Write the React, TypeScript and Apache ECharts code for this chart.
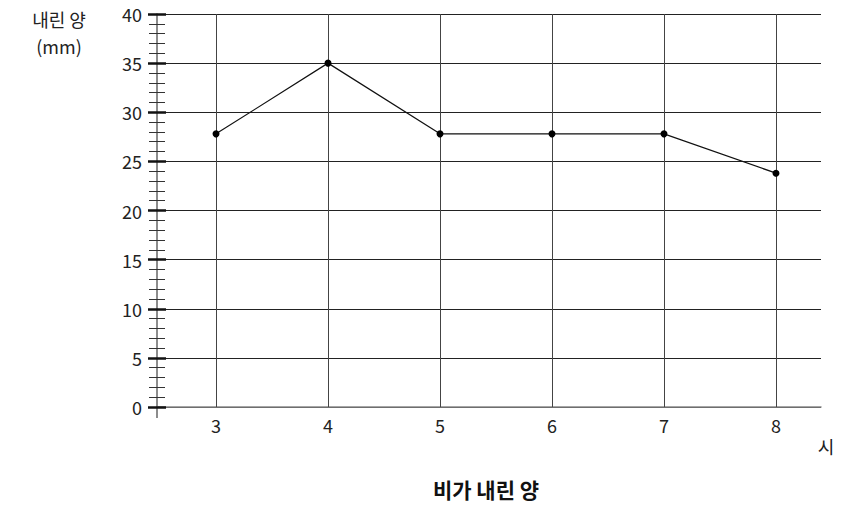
import React, { useEffect, useRef } from "react";
import * as echarts from "echarts";

const hours = [3, 4, 5, 6, 7, 8];
const rainfall = [27.8, 35, 27.8, 27.8, 27.8, 23.8];
const yTicks = [0, 5, 10, 15, 20, 25, 30, 35, 40];
const titleText = "비가 내린 양";
const yNameLines = ["내린 양", "(mm)"];
const xName = "시";

const FONT = "'Noto Sans CJK KR', 'Noto Sans', sans-serif";

export default function App() {
  const ref = useRef<HTMLDivElement>(null);
  useEffect(() => {
    if (!ref.current) return;
    const chart = echarts.init(ref.current, undefined, { renderer: "svg" });
    const yBase = {
      type: "value",
      min: yTicks[0],
      max: yTicks[yTicks.length - 1],
      interval: 5,
      position: "left",
    };
    chart.setOption({
      animation: false,
      backgroundColor: "#fff",
      textStyle: { fontFamily: FONT },
      title: {
        text: titleText,
        left: 481,
        textAlign: "center",
        top: 473,
        textStyle: { fontFamily: FONT, fontSize: 21, fontWeight: "bold", color: "#111" },
      },
      grid: { left: 157, right: 40, top: 14, bottom: 100 },
      xAxis: {
        type: "value",
        min: 2.473,
        max: 8.402,
        axisLine: { show: true, onZero: false, lineStyle: { color: "#888", width: 1.5 } },
        axisTick: { show: false },
        splitLine: { show: false },
        axisLabel: {
          customValues: hours,
          margin: 9,
          fontSize: 18,
          color: "#222",
          fontFamily: FONT,
        },
      },
      yAxis: [
        {
          ...yBase,
          axisLine: { show: true, lineStyle: { color: "#666", width: 1.5 } },
          axisTick: { show: true, inside: false, length: 9, lineStyle: { color: "#111", width: 2.5 } },
          minorTick: { show: true, splitNumber: 5, length: 8, lineStyle: { color: "#333", width: 1 } },
          splitLine: { show: true, lineStyle: { color: "#222", width: 1 } },
          axisLabel: { margin: 15, fontSize: 18, color: "#222", fontFamily: FONT },
        },
        {
          ...yBase,
          axisLine: { show: false },
          axisTick: { show: true, inside: true, length: 9, lineStyle: { color: "#111", width: 2.5 } },
          minorTick: { show: true, splitNumber: 5, length: 8, lineStyle: { color: "#333", width: 1 } },
          splitLine: { show: false },
          axisLabel: { show: false },
        },
      ],
      graphic: [
        {
          type: "text",
          x: 59,
          y: 5,
          style: {
            text: yNameLines.join("\n"),
            fontSize: 18,
            lineHeight: 27,
            fontFamily: FONT,
            fill: "#222",
            align: "center",
            verticalAlign: "top",
          },
        },
        {
          type: "text",
          x: 826,
          y: 437,
          style: {
            text: xName,
            fontSize: 18,
            fontFamily: FONT,
            fill: "#222",
            align: "center",
            verticalAlign: "top",
          },
        },
        {
          type: "line",
          shape: { x1: 157, y1: 406, x2: 157, y2: 418 },
          style: { stroke: "#666", lineWidth: 1.5 },
        },
      ],
      series: [
        {
          type: "line",
          data: hours.map((h, i) => [h, rainfall[i]]),
          symbol: "circle",
          symbolSize: 7,
          itemStyle: { color: "#000" },
          lineStyle: { color: "#111", width: 1.2 },
          z: 5,
          markLine: {
            silent: true,
            symbol: "none",
            label: { show: false },
            lineStyle: { color: "#444", width: 1, type: "solid" },
            data: hours.map((h) => ({ xAxis: h })),
          },
        },
      ],
    });
    return () => chart.dispose();
  }, []);
  return (
    <div
      ref={ref}
      style={{ position: "fixed", left: 0, top: 0, width: 861, height: 507 }}
    />
  );
}
